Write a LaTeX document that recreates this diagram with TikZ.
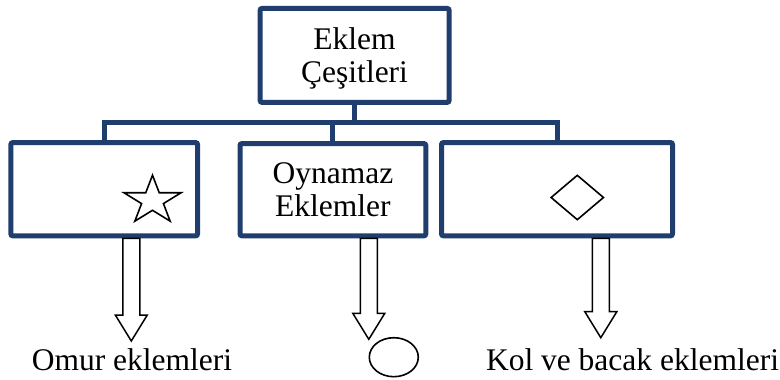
\documentclass[tikz,border=0pt]{standalone}
\usepackage{fontspec}
\setmainfont{Liberation Serif}
\usetikzlibrary{shapes.geometric,calc}

\definecolor{koyumavi}{RGB}{31,62,110}
\tikzstyle{kutu}=[draw=koyumavi,line width=5pt,rounded corners=2pt,fill=white,inner sep=0pt,align=center,font=\fontsize{31.5}{33}\selectfont]
\tikzstyle{dal}=[draw=koyumavi,line width=5pt]
\tikzstyle{sekil}=[draw=black,line width=1.6pt,inner sep=0pt]
\tikzstyle{blok}=[draw=black,line width=1.5pt,fill=white,line join=miter]
\tikzstyle{etiket}=[anchor=base,inner sep=0pt,font=\fontsize{31.5}{33}\selectfont]

% #1 kutu, #2 ok ucu
\newcommand{\blokok}[2]{%
  \draw[blok] ($(#1.south -| #2)+(-8.5,0)$) -- ($(#2)+(-8.5,-26)$) -- ($(#2)+(-16,-26)$) -- (#2)
    -- ($(#2)+(16,-26)$) -- ($(#2)+(8.5,-26)$) -- ($(#1.south -| #2)+(8.5,0)$) -- cycle;}

\begin{document}
\begin{tikzpicture}[x=1pt,y=-1pt]
		\useasboundingbox (0,0) rectangle (780,380);
		\node[kutu,minimum width=189pt,minimum height=94pt,text depth=0pt] (ust) at (354.6,55.4) {Eklem\\Çeşitleri};
		\node[kutu,minimum width=186.7pt,minimum height=93.3pt] (sol) at (104.2,189.2) {};
		\node[kutu,minimum width=185.8pt,minimum height=92.3pt] (orta) at (332.9,189.7) {Oynamaz\\Eklemler};
		\node[kutu,minimum width=231pt,minimum height=93.3pt] (sag) at (557,189.2) {};
		\node[etiket] (omur) at (132,370.5) {Omur eklemleri};
		\node[etiket] (kolbacak) at (632.5,370.5) {Kol ve bacak eklemleri};
		\node[sekil,diamond,minimum width=53pt,minimum height=45pt] (baklava) at (577.3,197.5) {};
		\node[sekil,ellipse,minimum width=49pt,minimum height=39pt] (halka) at (393.8,357.2) {};
		\coordinate (yildiz) at (152.5,200.6);
		\coordinate (catal) at (354.6,122.7);
		\coordinate (u1) at (131.3,341);
		\coordinate (u2) at (368.8,339.3);
		\coordinate (u3) at (600.8,337.7);
    		% First we draw the branches
		\draw[dal] (ust.south) -- (catal);
		\draw[dal] (sol.north) |- (catal) -| (sag.north);
		\draw[dal] (orta.north) -- (orta.north |- catal);
		% then the star and the arrows
		\draw[sekil,shift={(yildiz)}] (-90:30 and 25.4) -- (-54:11.5 and 9.7) -- (-18:30 and 25.4) -- (18:11.5 and 9.7)
			-- (54:30 and 25.4) -- (90:11.5 and 9.7) -- (126:30 and 25.4) -- (162:11.5 and 9.7)
			-- (198:30 and 25.4) -- (234:11.5 and 9.7) -- cycle;
		\blokok{sol}{u1}
		\blokok{orta}{u2}
		\blokok{sag}{u3}
\end{tikzpicture}
\end{document}
